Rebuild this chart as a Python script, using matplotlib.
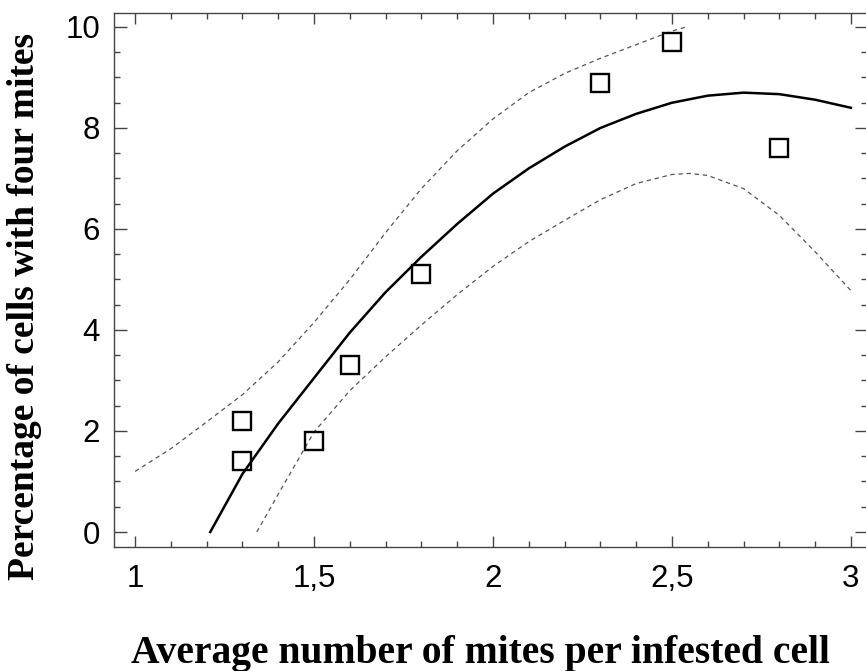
import matplotlib
matplotlib.use("Agg")
import matplotlib.pyplot as plt
from matplotlib.ticker import MultipleLocator, FuncFormatter

# observed points
MITES = [1.3, 1.3, 1.5, 1.6, 1.8, 2.3, 2.5, 2.8]
PCT_FOUR = [2.2, 1.4, 1.8, 3.3, 5.1, 8.9, 9.7, 7.6]

# fitted curve
FIT_X = [1.21, 1.3, 1.4, 1.5, 1.6, 1.7, 1.8, 1.9, 2.0, 2.1, 2.2, 2.3, 2.4,
         2.5, 2.6, 2.7, 2.8, 2.9, 3.0]
FIT_Y = [0.0, 1.15, 2.15, 3.05, 3.95, 4.75, 5.45, 6.1, 6.7, 7.2, 7.63, 8.0,
         8.28, 8.5, 8.64, 8.7, 8.67, 8.56, 8.4]

# upper limit
UP_X = [1.0, 1.1, 1.2, 1.3, 1.4, 1.5, 1.6, 1.7, 1.8, 1.9, 2.0, 2.1, 2.2,
        2.3, 2.4, 2.5, 2.54]
UP_Y = [1.2, 1.65, 2.18, 2.72, 3.37, 4.15, 5.0, 5.93, 6.8, 7.55, 8.18, 8.7,
        9.08, 9.38, 9.65, 9.92, 10.0]

# lower limit
LO_X = [1.34, 1.4, 1.5, 1.6, 1.7, 1.8, 1.9, 2.0, 2.1, 2.2, 2.3, 2.4, 2.5,
        2.55, 2.6, 2.7, 2.8, 2.9, 3.0]
LO_Y = [0.0, 0.75, 1.98, 2.8, 3.47, 4.1, 4.7, 5.26, 5.75, 6.17, 6.58, 6.9,
        7.08, 7.1, 7.06, 6.8, 6.27, 5.55, 4.78]


def main():
    fig = plt.figure(figsize=(8.66, 6.71), dpi=100)
    ax = fig.add_axes([114 / 866, 124 / 671, 753 / 866, 534 / 671])

    ax.plot(UP_X, UP_Y, color="#555555", linewidth=0.9, linestyle=(0, (3.5, 3)))
    ax.plot(LO_X, LO_Y, color="#555555", linewidth=0.9, linestyle=(0, (3.5, 3)))
    ax.plot(FIT_X, FIT_Y, color="black", linewidth=1.8)
    ax.plot(MITES, PCT_FOUR, linestyle="none", marker="s", markersize=13,
            markerfacecolor="none", markeredgecolor="black", markeredgewidth=1.7)

    ax.set_xlim(0.941, 3.045)
    ax.set_ylim(-0.297, 10.277)

    ax.xaxis.set_major_locator(MultipleLocator(0.5))
    ax.xaxis.set_minor_locator(MultipleLocator(0.1))
    ax.yaxis.set_major_locator(MultipleLocator(2))
    ax.yaxis.set_minor_locator(MultipleLocator(0.5))
    comma = FuncFormatter(lambda v, p: f"{v:g}".replace(".", ","))
    ax.xaxis.set_major_formatter(comma)
    ax.yaxis.set_major_formatter(comma)

    ax.tick_params(which="both", direction="in", top=True, right=True,
                   color="#444444", width=1)
    ax.tick_params(which="major", length=9)
    ax.tick_params(which="minor", length=4)
    ax.tick_params(axis="x", which="major", length=8, pad=12)
    ax.tick_params(axis="y", which="major", pad=10)
    for lab in ax.get_xticklabels() + ax.get_yticklabels():
        lab.set_fontfamily("Liberation Sans")
        lab.set_fontsize(22.5)
    for sp in ax.spines.values():
        sp.set_color("#444444")
        sp.set_linewidth(1)

    fig.text(480 / 866, 1 - 663 / 671, "Average number of mites per infested cell",
             ha="center", va="baseline", fontsize=28.5, fontweight="bold",
             family="Liberation Serif")
    fig.text(25 / 866, 1 - 306 / 671, "Percentage of cells with four mites",
             ha="center", va="center", rotation=90, fontsize=27,
             fontweight="bold", family="Liberation Serif")

    fig.savefig("out.png", dpi=100)


if __name__ == "__main__":
    main()
